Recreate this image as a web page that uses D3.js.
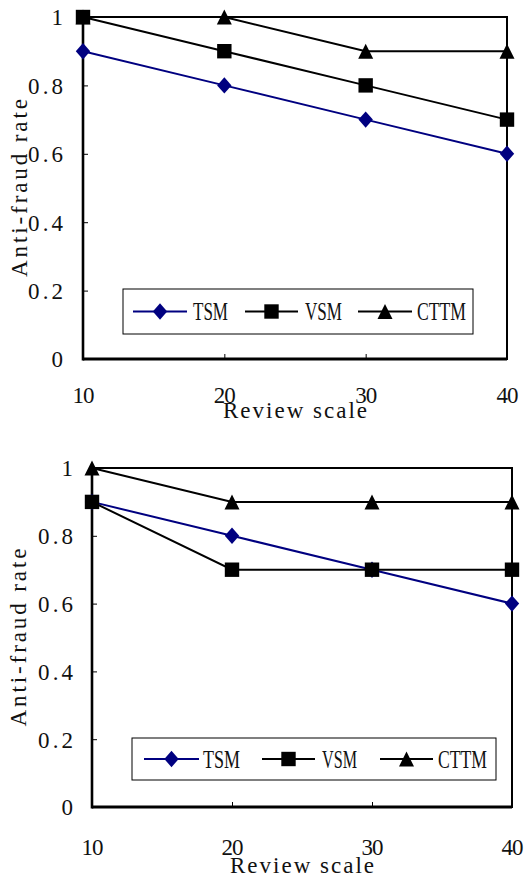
<!DOCTYPE html>
<html><head><meta charset="utf-8">
<script src="https://cdn.jsdelivr.net/npm/d3@7"></script>
<style>html,body{margin:0;padding:0;background:#fff;}svg{display:block;}</style>
</head><body>
<svg id="c" width="528" height="876"></svg>
<script>
const xCategories = [10, 20, 30, 40];
const yTicks = [0, 0.2, 0.4, 0.6, 0.8, 1];
const seriesNames = ["TSM", "VSM", "CTTM"];
// Chart 1
const top_TSM = [0.9, 0.8, 0.7, 0.6];
const top_VSM = [1.0, 0.9, 0.8, 0.7];
const top_CTTM = [1.0, 1.0, 0.9, 0.9];
// Chart 2
const bot_TSM = [0.9, 0.8, 0.7, 0.6];
const bot_VSM = [0.9, 0.7, 0.7, 0.7];
const bot_CTTM = [1.0, 0.9, 0.9, 0.9];
const xTitle = "Review scale";
const yTitle = "Anti-fraud rate";

const svg = d3.select("#c");
const FONT = '"Liberation Serif", "DejaVu Serif", serif';
const NAVY = "#000080";

const diamond = { draw(ctx, size) { const w = 7.2, h = 8.2; ctx.moveTo(0,-h); ctx.lineTo(w,0); ctx.lineTo(0,h); ctx.lineTo(-w,0); ctx.closePath(); } };
const square = { draw(ctx, size) { const s = 7.2; ctx.rect(-s,-s,2*s,2*s); } };
const triangle = { draw(ctx, size) { const w = 7.5, h = 7.5; ctx.moveTo(0,-h); ctx.lineTo(w,h); ctx.lineTo(-w,h); ctx.closePath(); } };
const styles = {
  TSM: { color: NAVY, sym: diamond },
  VSM: { color: "#000", sym: square },
  CTTM: { color: "#000", sym: triangle }
};

function txt(sel, size) {
  return sel.style("font-family", FONT).style("font-size", size + "px").attr("fill", "#111");
}

function chart(cfg) {
  const x = d3.scaleLinear().domain([10, 40]).range([cfg.left, cfg.right]);
  const y = d3.scaleLinear().domain([0, 1]).range([cfg.bottom, cfg.top]);
  const g = svg.append("g");

  // y axis
  const ya = g.append("g").attr("transform", `translate(${cfg.left},0)`)
    .call(d3.axisLeft(y).tickValues(yTicks).tickFormat(d3.format("~g")).tickSizeInner(-5).tickSizeOuter(0).tickPadding(cfg.yPad));
  ya.select(".domain").remove();
  ya.selectAll("line").attr("stroke", "#000").attr("stroke-width", 1);
  txt(ya.selectAll("text"), 23).attr("dy", "0.34em")
    .each(function(d){ const t = d3.select(this).text(); if (t.length > 1) d3.select(this).attr("textLength", 35).attr("lengthAdjust", "spacing"); });

  // x axis
  const xa = g.append("g").attr("transform", `translate(0,${cfg.bottom})`)
    .call(d3.axisBottom(x).tickValues(xCategories).tickSizeInner(-5).tickSizeOuter(0).tickPadding(cfg.xPad));
  xa.select(".domain").remove();
  xa.selectAll("line").attr("stroke", "#000").attr("stroke-width", 1);
  txt(xa.selectAll("text"), 23).attr("textLength", 22).attr("lengthAdjust", "spacing");

  // frame
  g.append("rect").attr("x", cfg.left).attr("y", cfg.top).attr("width", cfg.right - cfg.left).attr("height", cfg.bottom - cfg.top)
    .attr("fill", "none").attr("stroke", "#000").attr("stroke-width", 2);
  g.append("line").attr("x1", cfg.left).attr("x2", cfg.left).attr("y1", cfg.top).attr("y2", cfg.bottom + 1.5).attr("stroke", "#000").attr("stroke-width", 2.6);
  g.append("line").attr("x1", cfg.left).attr("x2", cfg.right).attr("y1", cfg.bottom).attr("y2", cfg.bottom).attr("stroke", "#000").attr("stroke-width", 2.8);

  // titles
  txt(g.append("text"), 23).attr("x", (cfg.left + cfg.right) / 2).attr("y", cfg.xTitleY).attr("text-anchor", "middle")
    .attr("textLength", 144).attr("lengthAdjust", "spacing").text(xTitle);
  txt(g.append("text"), 23).attr("transform", `translate(${cfg.yTitleX},${(cfg.top + cfg.bottom) / 2}) rotate(-90)`).attr("text-anchor", "middle")
    .attr("textLength", 178).attr("lengthAdjust", "spacing").text(yTitle);

  // legend
  const L = cfg.legend;
  g.append("rect").attr("x", L.x).attr("y", L.y).attr("width", L.w).attr("height", L.h).attr("fill", "#fff").attr("stroke", "#000").attr("stroke-width", 1);
  const ry = L.y + L.h / 2;
  seriesNames.forEach((name, i) => {
    const it = L.items[i], st = styles[name];
    g.append("line").attr("x1", it.x1).attr("x2", it.x2).attr("y1", ry).attr("y2", ry).attr("stroke", st.color).attr("stroke-width", 2);
    g.append("path").attr("d", d3.symbol().type(st.sym)()).attr("transform", `translate(${(it.x1 + it.x2) / 2},${ry})`).attr("fill", st.color);
    txt(g.append("text"), 25).attr("x", it.tx).attr("y", ry + 8.5)
      .attr("textLength", it.tw).attr("lengthAdjust", "spacingAndGlyphs").text(name);
  });

  // series
  const line = d3.line().x((d, i) => x(xCategories[i])).y(d => y(d));
  cfg.series.forEach((vals, si) => {
    const st = styles[seriesNames[si]];
    g.append("path").datum(vals).attr("d", line).attr("fill", "none").attr("stroke", st.color).attr("stroke-width", 2);
  });
  cfg.series.forEach((vals, si) => {
    const st = styles[seriesNames[si]];
    g.append("g").selectAll("path").data(vals).join("path")
      .attr("d", d3.symbol().type(st.sym)())
      .attr("transform", (d, i) => `translate(${x(xCategories[i])},${y(d)})`)
      .attr("fill", st.color);
  });
}

chart({
  left: 83, right: 507, top: 17, bottom: 359, yPad: 20, xPad: 28, xTitleY: 418, yTitleX: 27,
  series: [top_TSM, top_VSM, top_CTTM],
  legend: { x: 123, y: 289, w: 350, h: 45, items: [
    { x1: 133, x2: 187, tx: 193, tw: 35 },
    { x1: 245, x2: 298, tx: 305, tw: 37 },
    { x1: 358, x2: 412, tx: 417, tw: 49 }
  ] }
});
chart({
  left: 92, right: 512, top: 468, bottom: 807, yPad: 19, xPad: 32, xTitleY: 873, yTitleX: 26,
  series: [bot_TSM, bot_VSM, bot_CTTM],
  legend: { x: 132, y: 738, w: 364, h: 42, items: [
    { x1: 144, x2: 199, tx: 203, tw: 37 },
    { x1: 262, x2: 315, tx: 322, tw: 35 },
    { x1: 380, x2: 433, tx: 438, tw: 49 }
  ] }
});
</script>
</body></html>
